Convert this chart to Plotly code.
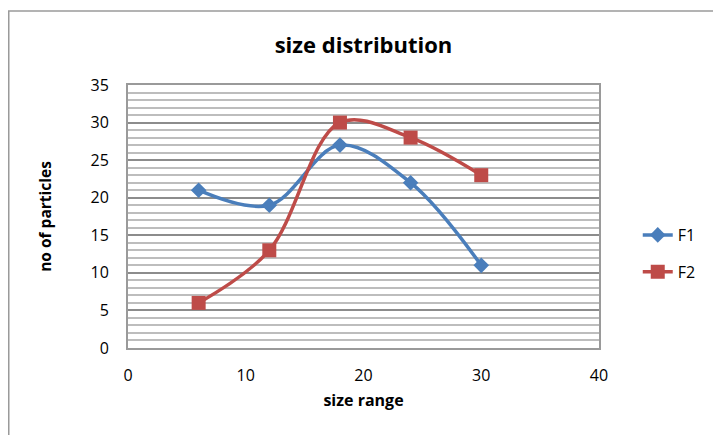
import plotly.graph_objects as go

# particle size distribution data
size_range = [6, 12, 18, 24, 30]
f1_counts = [21, 19, 27, 22, 11]
f2_counts = [6, 13, 30, 28, 23]

x_ticks = [0, 10, 20, 30, 40]
y_ticks = [0, 5, 10, 15, 20, 25, 30, 35]

FONT = "Open Sans"
BLUE = "#4a7ebb"
RED = "#be4b48"

fig = go.Figure()

fig.add_trace(go.Scatter(
    x=size_range, y=f1_counts, name="F1", mode="lines+markers",
    legendgroup="f1",
    line=dict(color=BLUE, width=3.5, shape="spline", smoothing=1.0),
    marker=dict(symbol="diamond", size=12, color=BLUE),
))
fig.add_trace(go.Scatter(
    x=size_range, y=f2_counts, name="F2", mode="lines+markers",
    legendgroup="f2",
    line=dict(color=RED, width=3.5, shape="spline", smoothing=1.0),
    marker=dict(symbol="square", size=14, color=RED),
))

plot_w = 713 - 128 - 111
plot_h = 435 - 85 - 87

fig.update_layout(
    width=713, height=435,
    margin=dict(l=128, r=111, t=85, b=87),
    paper_bgcolor="white", plot_bgcolor="white",
    font=dict(family=FONT, color="black", size=16),
    title=dict(text="<b>size distribution</b>", x=0.5, xanchor="center",
               xref="paper", y=1 - 45 / 435, yanchor="middle",
               font=dict(size=22, family=FONT)),
    showlegend=True,
    legend=dict(x=(641 - 128) / plot_w, xanchor="left",
                y=0.5 - 37 / plot_h, yanchor="middle",
                font=dict(size=16, family=FONT),
                traceorder="grouped", tracegroupgap=13,
                bgcolor="rgba(0,0,0,0)"),
    xaxis=dict(
        range=[0, 40], tickvals=x_ticks, ticks="", showgrid=False,
        zeroline=False, showline=True, linecolor="#9a9a9a", linewidth=2,
        mirror=True, tickfont=dict(size=16), ticklabelstandoff=12,
        title=dict(text="<b>size range</b>", font=dict(size=16), standoff=10),
    ),
    yaxis=dict(
        range=[0, 35], tickvals=y_ticks, ticks="", showgrid=True,
        gridcolor="#8c8c8c", gridwidth=2, zeroline=False, showline=True,
        linecolor="#9a9a9a", linewidth=2, mirror=True, tickfont=dict(size=16),
        ticklabelstandoff=14,
        minor=dict(dtick=1, showgrid=True, gridcolor="#bdbdbd", gridwidth=1.5),
        title=dict(text="<b>no of particles</b>", font=dict(size=15.5),
                   standoff=35),
    ),
    shapes=[dict(type="rect", xref="paper", yref="paper",
                 x0=-(128 - 8) / plot_w, x1=1.5, y0=-1.0,
                 y1=1 + (85 - 11) / plot_h,
                 line=dict(color="#9a9a9a", width=1.5), layer="below")],
)

fig.write_html("out.html")
